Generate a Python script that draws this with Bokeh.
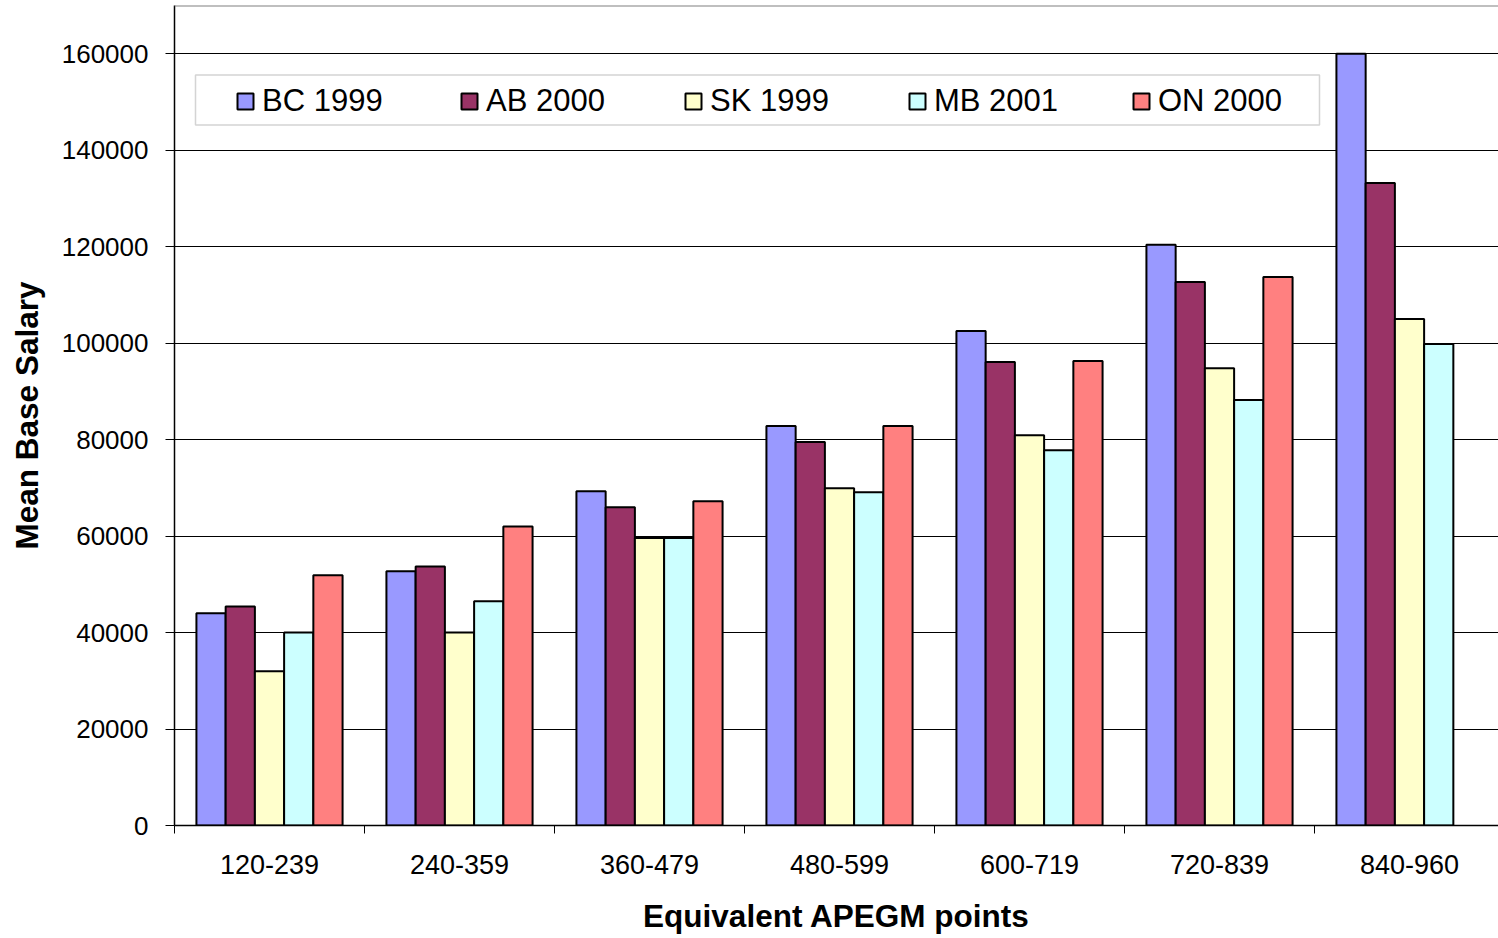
from bokeh.plotting import figure
from bokeh.models import (Range1d, FixedTicker, Legend, LegendItem, Span,
                          BoxAnnotation, ColumnDataSource, BasicTickFormatter)
from bokeh.embed import file_html
from bokeh.resources import INLINE

# Point bands and mean base salary per province survey
categories = ["120-239", "240-359", "360-479", "480-599", "600-719", "720-839", "840-960"]
series_names = ["BC 1999", "AB 2000", "SK 1999", "MB 2001", "ON 2000"]
bc_1999 = [44000, 52700, 69300, 82800, 102500, 120400, 160000]
ab_2000 = [45400, 53700, 66000, 79500, 96100, 112700, 133200]
sk_1999 = [32000, 40000, 59600, 69900, 80900, 94800, 105000]
mb_2001 = [40000, 46500, 59600, 69100, 77800, 88200, 99800]
on_2000 = [51900, 62000, 67200, 82800, 96300, 113700, None]
series_values = [bc_1999, ab_2000, sk_1999, mb_2001, on_2000]
series_colors = ["#9999FF", "#993366", "#FFFFCC", "#CCFFFF", "#FF8080"]

FONT = "Liberation Sans"
W, H = 1498, 938
LEFT, TOP, BOTTOM = 174, 5, 113
BAND_PX = 190.0                      # pixel width of one category band
frame_w = W - LEFT

p = figure(width=W, height=H, output_backend="svg", toolbar_location=None,
           x_range=Range1d(0, frame_w / BAND_PX), y_range=Range1d(0, 170000),
           min_border_left=LEFT, min_border_right=0, min_border_top=TOP,
           min_border_bottom=BOTTOM, background_fill_color="white",
           border_fill_color="white", outline_line_color=None)

# five bars per band, gap of 1.5 bar widths between groups
bar_w = 1.0 / 6.5
renderers = []
for k, (name, vals, col) in enumerate(zip(series_names, series_values, series_colors)):
    xs, ys = [], []
    for i, v in enumerate(vals):
        if v is None:
            continue
        xs.append(i + 0.5 + (k - 2) * bar_w)
        ys.append(v)
    src = ColumnDataSource(dict(x=xs, top=ys))
    r = p.vbar(x="x", top="top", width=bar_w, bottom=0, source=src,
               fill_color=col, line_color="black", line_width=2)
    renderers.append(r)

# grid and frame edge
p.xgrid.grid_line_color = None
p.ygrid.grid_line_color = "#000000"
p.ygrid.grid_line_width = 1
p.add_layout(Span(location=170000, dimension="width", line_color="#808080", line_width=2))

# x axis: labels at band centres, ticks at band edges
xa = p.xaxis[0]
xa.ticker = FixedTicker(ticks=[i + 0.5 for i in range(len(categories))],
                        minor_ticks=list(range(len(categories) + 1)))
xa.major_label_overrides = {i + 0.5: c for i, c in enumerate(categories)}
xa.major_tick_line_color = None
xa.major_tick_out = 0
xa.major_tick_in = 0
xa.minor_tick_line_color = "black"
xa.minor_tick_out = 8
xa.minor_tick_in = 0
xa.axis_line_color = "black"
xa.axis_line_width = 1.5
xa.major_label_text_font = FONT
xa.major_label_text_font_size = "27px"
xa.major_label_text_color = "black"
xa.major_label_standoff = 21
xa.axis_label = "Equivalent APEGM points"
xa.axis_label_text_font = FONT
xa.axis_label_text_font_size = "31.5px"
xa.axis_label_text_font_style = "bold"
xa.axis_label_text_color = "black"
xa.axis_label_standoff = 21

ya = p.yaxis[0]
ya.ticker = FixedTicker(ticks=list(range(0, 160001, 20000)), minor_ticks=[])
ya.formatter = BasicTickFormatter(use_scientific=False)
ya.major_tick_line_color = "black"
ya.major_tick_out = 9
ya.major_tick_in = 0
ya.minor_tick_line_color = None
ya.axis_line_color = "black"
ya.axis_line_width = 1.5
ya.major_label_text_font = FONT
ya.major_label_text_font_size = "26px"
ya.major_label_text_color = "black"
ya.major_label_standoff = 17
ya.axis_label = "Mean Base Salary"
ya.axis_label_text_font = FONT
ya.axis_label_text_font_size = "31.5px"
ya.axis_label_text_font_style = "bold"
ya.axis_label_text_color = "black"
ya.axis_label_standoff = 14

# legend frame and entries
p.add_layout(BoxAnnotation(left=21 / BAND_PX, right=1145 / BAND_PX,
                           top=155600, bottom=145200,
                           fill_color="white", fill_alpha=1.0,
                           line_color="#707070", line_width=1.5))
legend = Legend(items=[LegendItem(label=n, renderers=[r]) for n, r in zip(series_names, renderers)],
                orientation="horizontal", location=(61, 706),
                glyph_width=20, glyph_height=20, label_standoff=7,
                label_width=126, spacing=71, padding=0, margin=0,
                border_line_color=None, background_fill_alpha=0,
                label_text_font=FONT, label_text_font_size="31px",
                label_text_color="black")
p.add_layout(legend)

open("out.html", "w").write(file_html(p, INLINE))
